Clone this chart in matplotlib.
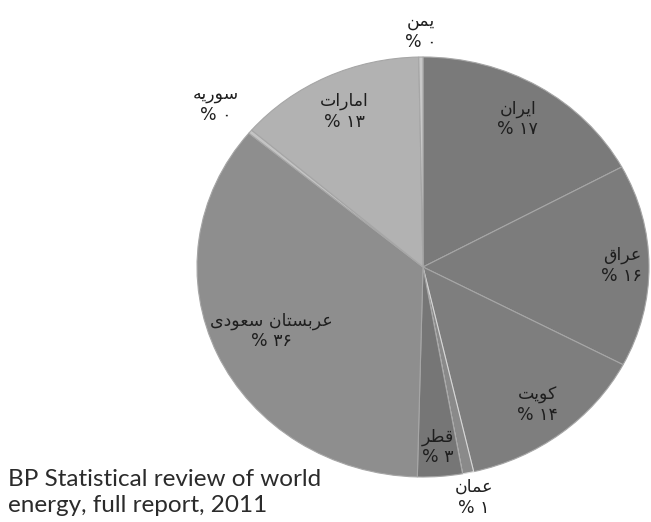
import numpy as np
import matplotlib
matplotlib.use('Agg')
import matplotlib.pyplot as plt

# Persian names, written in visual order with presentation forms
# (matplotlib does no Arabic shaping / bidi on its own)
countries = [
    '\uFEE5\uFE8D\uFEAE\uFEF3\uFE8D',            # ایران
    '\uFED5\uFE8D\uFEAE\uFECB',                  # عراق
    '\uFE96\uFEF3\uFEEE\uFEDB',                  # کویت
    '\uFEE5\uFE8E\uFEE4\uFECB',                  # عمان
    '\uFEAE\uFEC4\uFED7',                        # قطر
    '\uFEEF\uFEA9\uFEEE\uFECC\uFEB3 \uFEE5\uFE8E\uFE98\uFEB4\uFE91\uFEAE\uFECB',  # عربستان سعودی
    '\uFEEA\uFEF3\uFEAD\uFEEE\uFEB3',            # سوریه
    '\uFE95\uFE8D\uFEAD\uFE8E\uFEE3\uFE8D',      # امارات
    '\uFEE6\uFEE4\uFEF3',                        # یمن
]
shares = [17.1, 15.6, 13.7, 0.8, 3.2, 35.6, 0.3, 13.4, 0.3]
shown_pct = [17, 16, 14, 1, 3, 36, 0, 13, 0]

colors = ['#7a7a7a', '#7c7c7c', '#7e7e7e', '#8a8a8a', '#767676',
          '#8e8e8e', '#c4c4c4', '#b2b2b2', '#c8c8c8']
label_r = [0.82, 0.88, 0.83, 1.12, 0.86, 0.735, 1.2, 0.82, 1.12]

fa_digits = str.maketrans('0123456789', '\u06F0\u06F1\u06F2\u06F3\u06F4\u06F5\u06F6\u06F7\u06F8\u06F9')

fig = plt.figure(figsize=(6.51, 5.22), dpi=100)
W, H = 651, 522
cx, cy, rx, ry = 423, 267, 226, 210
ax = fig.add_axes([(cx - rx) / W, (H - cy - ry) / H, 2 * rx / W, 2 * ry / H])

wedges, _ = ax.pie(shares, colors=colors, startangle=90, counterclock=False,
                   wedgeprops=dict(edgecolor='#a6a6a6', linewidth=0.8))
ax.set_aspect('auto')
ax.set_xlim(-1, 1)
ax.set_ylim(-1, 1)
ax.axis('off')
for w in wedges:
    w.set_clip_on(False)
wedges[3].set_edgecolor('#d8d8d8')

for w, name, p, r in zip(wedges, countries, shown_pct, label_r):
    mid = np.deg2rad((w.theta1 + w.theta2) / 2)
    txt = name + '\n% ' + str(p).translate(fa_digits)
    ax.text(r * np.cos(mid), r * np.sin(mid), txt, ha='center', va='center',
            fontsize=12.5, color='#1e1e1e', family='DejaVu Sans',
            linespacing=1.2, clip_on=False)

fig.text(8 / W, 1 - 479 / H, 'BP Statistical review of world', ha='left', va='center',
         fontsize=17.5, color='#2b2b2b', family=['Lato', 'DejaVu Sans'])
fig.text(8 / W, 1 - 506 / H, 'energy, full report, 2011', ha='left', va='center',
         fontsize=17.5, color='#2b2b2b', family=['Lato', 'DejaVu Sans'])

fig.savefig('out.png', dpi=100)
